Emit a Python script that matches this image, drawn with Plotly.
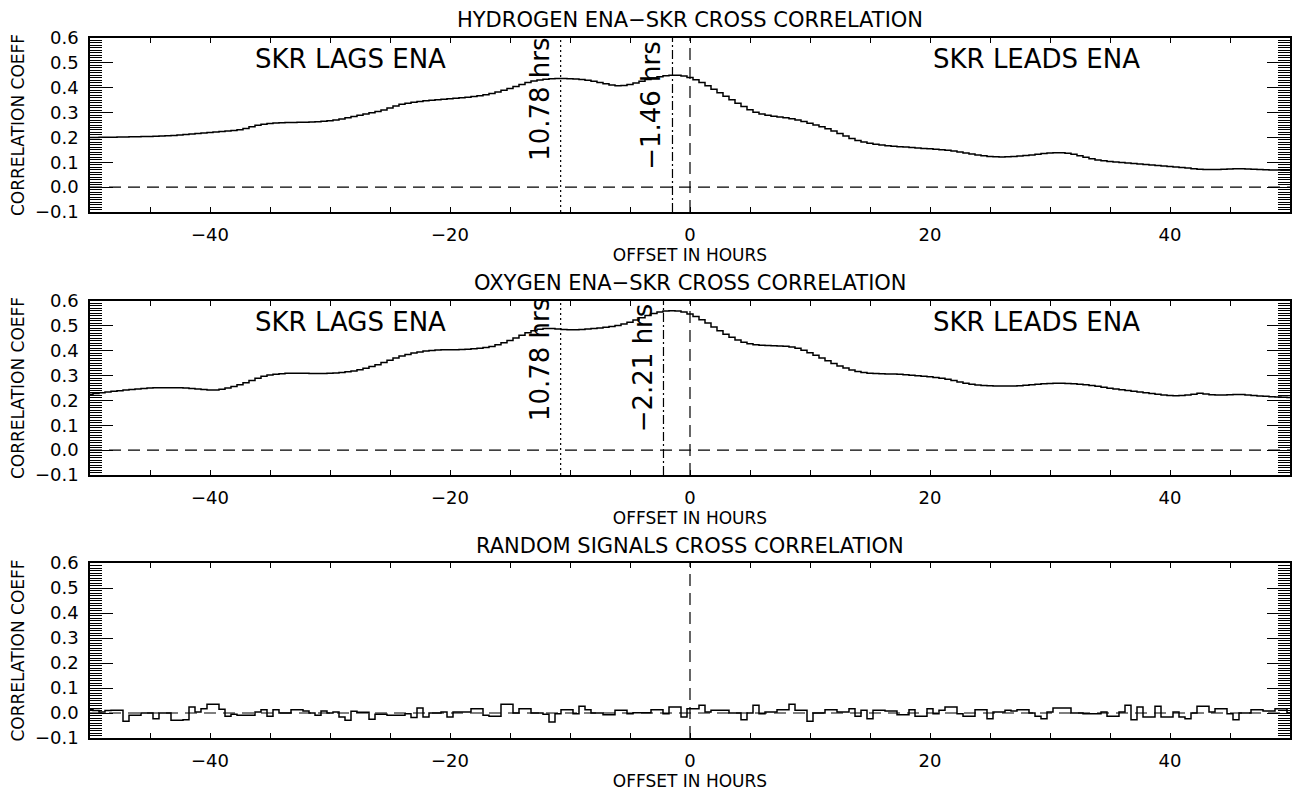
import plotly.graph_objects as go

# ---------------- data ----------------
offset_hours = [-50 + 0.5 * i for i in range(201)]  # bin centres, 0.5 h bins

hydrogen_corr = [
    0.200, 0.200, 0.201, 0.201, 0.201, 0.202, 0.202, 0.203, 0.203, 0.204,
    0.204, 0.205, 0.206, 0.207, 0.208, 0.210, 0.212, 0.214, 0.216, 0.218,
    0.220, 0.222, 0.224, 0.226, 0.228, 0.231, 0.236, 0.243, 0.249, 0.253,
    0.256, 0.258, 0.259, 0.260, 0.260, 0.261, 0.261, 0.262, 0.263, 0.265,
    0.267, 0.270, 0.274, 0.279, 0.284, 0.289, 0.294, 0.299, 0.304, 0.310,
    0.318, 0.326, 0.333, 0.338, 0.342, 0.345, 0.348, 0.350, 0.352, 0.354,
    0.356, 0.358, 0.360, 0.362, 0.365, 0.368, 0.372, 0.377, 0.383, 0.390,
    0.397, 0.405, 0.413, 0.421, 0.427, 0.431, 0.434, 0.436, 0.437, 0.437,
    0.436, 0.435, 0.433, 0.430, 0.426, 0.421, 0.416, 0.411, 0.408, 0.409,
    0.413, 0.419, 0.426, 0.433, 0.439, 0.444, 0.448, 0.450, 0.450, 0.447,
    0.441, 0.432, 0.421, 0.408, 0.394, 0.380, 0.366, 0.352, 0.338, 0.324,
    0.311, 0.301, 0.294, 0.289, 0.285, 0.282, 0.279, 0.275, 0.270, 0.264,
    0.257, 0.250, 0.243, 0.235, 0.226, 0.216, 0.206, 0.196, 0.188, 0.182,
    0.177, 0.173, 0.170, 0.167, 0.165, 0.163, 0.161, 0.159, 0.157, 0.155,
    0.154, 0.152, 0.150, 0.148, 0.145, 0.141, 0.137, 0.133, 0.129, 0.126,
    0.123, 0.122, 0.121, 0.122, 0.123, 0.125, 0.127, 0.129, 0.132, 0.135,
    0.137, 0.138, 0.138, 0.136, 0.132, 0.126, 0.120, 0.114, 0.109, 0.106,
    0.103, 0.101, 0.099, 0.097, 0.095, 0.093, 0.091, 0.089, 0.087, 0.085,
    0.083, 0.081, 0.079, 0.077, 0.074, 0.072, 0.071, 0.071, 0.071, 0.072,
    0.073, 0.074, 0.074, 0.073, 0.072, 0.071, 0.070, 0.069, 0.069, 0.068,
    0.068,
]

oxygen_corr = [
    0.225, 0.228, 0.231, 0.234, 0.237, 0.239, 0.242, 0.244, 0.246, 0.248,
    0.250, 0.251, 0.251, 0.251, 0.251, 0.251, 0.250, 0.248, 0.246, 0.244,
    0.242, 0.242, 0.245, 0.250, 0.256, 0.263, 0.271, 0.280, 0.289, 0.297,
    0.302, 0.305, 0.307, 0.309, 0.309, 0.309, 0.309, 0.308, 0.308, 0.308,
    0.309, 0.310, 0.312, 0.315, 0.318, 0.323, 0.329, 0.336, 0.344, 0.353,
    0.362, 0.371, 0.379, 0.385, 0.391, 0.395, 0.399, 0.401, 0.403, 0.404,
    0.404, 0.404, 0.405, 0.406, 0.408, 0.410, 0.413, 0.417, 0.424, 0.432,
    0.441, 0.451, 0.462, 0.472, 0.480, 0.486, 0.489, 0.489, 0.487, 0.485,
    0.484, 0.484, 0.485, 0.487, 0.489, 0.491, 0.494, 0.497, 0.501, 0.507,
    0.515, 0.524, 0.533, 0.542, 0.550, 0.556, 0.560, 0.561, 0.560, 0.556,
    0.548, 0.538, 0.525, 0.511, 0.495, 0.480, 0.466, 0.454, 0.443, 0.434,
    0.428, 0.424, 0.422, 0.421, 0.420, 0.419, 0.418, 0.415, 0.410, 0.402,
    0.392, 0.382, 0.371, 0.360, 0.349, 0.339, 0.330, 0.322, 0.316, 0.312,
    0.309, 0.308, 0.307, 0.306, 0.306, 0.305, 0.303, 0.301, 0.299, 0.297,
    0.295, 0.292, 0.289, 0.285, 0.280, 0.274, 0.269, 0.265, 0.262, 0.260,
    0.259, 0.258, 0.258, 0.258, 0.258, 0.259, 0.261, 0.263, 0.265, 0.267,
    0.268, 0.269, 0.269, 0.268, 0.267, 0.265, 0.263, 0.260, 0.257, 0.253,
    0.249, 0.246, 0.243, 0.240, 0.237, 0.234, 0.231, 0.228, 0.225, 0.222,
    0.220, 0.219, 0.220, 0.222, 0.225, 0.229, 0.226, 0.223, 0.222, 0.222,
    0.223, 0.224, 0.224, 0.222, 0.220, 0.218, 0.217, 0.215, 0.214, 0.213,
    0.212,
]

random_corr = [
    0.013, 0.010, 0.004, 0.010, 0.011, 0.011, -0.033, -0.009, -0.009, 0.000,
    0.000, -0.023, 0.000, 0.000, -0.029, -0.029, -0.027, 0.024, 0.004, 0.017,
    0.035, 0.035, 0.015, -0.013, -0.005, -0.009, -0.009, -0.009, 0.004, 0.013,
    -0.013, 0.013, 0.000, 0.000, 0.013, 0.013, 0.008, 0.000, -0.009, 0.008,
    0.000, 0.004, -0.016, -0.029, 0.007, 0.003, 0.003, -0.025, -0.005, -0.005,
    -0.009, -0.009, -0.009, -0.003, -0.018, 0.020, -0.016, 0.000, 0.000, 0.004,
    -0.016, 0.004, 0.004, 0.004, 0.017, 0.017, -0.009, -0.013, -0.013, 0.035,
    0.035, 0.000, 0.017, 0.017, 0.000, 0.000, -0.005, -0.036, -0.003, 0.013,
    0.013, -0.003, 0.027, 0.013, 0.000, 0.000, -0.007, -0.007, 0.011, 0.011,
    -0.003, 0.001, 0.001, 0.001, 0.013, 0.013, -0.003, 0.024, 0.024, -0.016,
    0.017, 0.017, 0.031, 0.004, 0.011, 0.011, 0.011, 0.000, 0.000, -0.027,
    0.000, 0.031, -0.003, 0.004, 0.004, 0.013, 0.013, 0.035, 0.011, 0.011,
    -0.033, 0.000, 0.000, 0.013, 0.013, 0.004, 0.004, 0.017, -0.013, 0.011,
    -0.023, 0.011, 0.011, 0.008, 0.008, -0.007, -0.007, 0.013, -0.013, -0.013,
    0.017, -0.003, 0.011, 0.024, 0.024, -0.003, -0.013, -0.013, 0.013, 0.013,
    -0.023, 0.004, 0.004, 0.011, 0.008, 0.013, 0.013, 0.000, -0.013, -0.023,
    0.004, 0.020, 0.020, 0.020, 0.000, 0.000, -0.003, -0.003, -0.003, 0.004,
    -0.013, -0.013, 0.004, 0.031, -0.027, 0.024, -0.016, -0.016, 0.027, -0.016,
    -0.016, 0.004, -0.016, -0.023, 0.000, 0.027, 0.027, 0.004, 0.017, 0.017,
    -0.003, -0.027, 0.000, 0.000, 0.013, 0.013, 0.008, 0.008, 0.017, 0.017,
    0.000,
]

panel_titles = [
    "HYDROGEN ENA\u2212SKR CROSS CORRELATION",
    "OXYGEN ENA\u2212SKR CROSS CORRELATION",
    "RANDOM SIGNALS CROSS CORRELATION",
]
x_tick_vals = [-40, -20, 0, 20, 40]
y_tick_vals = [-0.1, 0.0, 0.1, 0.2, 0.3, 0.4, 0.5, 0.6]
x_range = [-50, 50]
y_range = [-0.1, 0.6]

secondary_lag = -10.78                 # dotted line (panels 1 and 2)
peak_lags = [-1.46, -2.21]             # dash-dot lines (panels 1 and 2)
lag_labels = [["10.78 hrs", "\u22121.46 hrs"], ["10.78 hrs", "\u22122.21 hrs"]]
lag_label_x = [[-12.5, -3.25], [-12.5, -3.9]]
lag_label_y = [[0.351, 0.327], [0.362, 0.330]]
region_labels = ["SKR LAGS ENA", "SKR LEADS ENA"]
region_label_x = [-28.3, 28.9]
region_label_y = 0.515

# ---------------- figure ----------------
W, H = 1296, 791
FONT = "DejaVu Sans"
panel_px = [(38, 212), (301, 475), (563, 738)]   # top/bottom pixel rows of plot areas
title_px = [20, 283, 546]

fig = go.Figure()
series = [hydrogen_corr, oxygen_corr, random_corr]
layout = dict(
    width=W, height=H,
    margin=dict(l=90, r=6, t=0, b=0),
    paper_bgcolor="white", plot_bgcolor="white",
    showlegend=False, hovermode=False,
    template="none",
    font=dict(family=FONT, color="black", size=17),
)
shapes = []
annotations = []

for i in range(3):
    xa = "x" if i == 0 else f"x{i+1}"
    ya = "y" if i == 0 else f"y{i+1}"
    xk = "xaxis" if i == 0 else f"xaxis{i+1}"
    yk = "yaxis" if i == 0 else f"yaxis{i+1}"
    top, bot = panel_px[i]
    fig.add_trace(go.Scatter(
        x=offset_hours, y=series[i], mode="lines",
        line=dict(shape="hvh", color="black", width=1.5),
        xaxis=xa, yaxis=ya,
    ))
    layout[xk] = dict(
        domain=[0, 1], anchor=ya, range=x_range,
        tickmode="array", tickvals=x_tick_vals,
        ticks="inside", ticklen=5, tickwidth=1, tickcolor="black",
        minor=dict(dtick=5, tick0=0, ticks="inside", ticklen=5, tickwidth=1, tickcolor="black"),
        showline=True, linecolor="black", linewidth=1.5, mirror="ticks",
        showgrid=False, zeroline=False,
        tickfont=dict(family=FONT, size=18, color="black"),
        ticklabelstandoff=6,
        title=dict(text="OFFSET IN HOURS", font=dict(family=FONT, size=17, color="black"), standoff=4),
    )
    layout[yk] = dict(
        domain=[1 - bot / H, 1 - top / H], anchor=xa, range=y_range,
        tickmode="array", tickvals=y_tick_vals, tickformat=".1f",
        ticks="inside", ticklen=23, tickwidth=1, tickcolor="black",
        minor=dict(dtick=0.01, tick0=0, ticks="inside", ticklen=12, tickwidth=1, tickcolor="black"),
        showline=True, linecolor="black", linewidth=1.5, mirror="ticks",
        showgrid=False, zeroline=False,
        tickfont=dict(family=FONT, size=18, color="black"),
        ticklabelstandoff=6,
        title=dict(text="CORRELATION COEFF", font=dict(family=FONT, size=17, color="black"), standoff=6),
    )
    # panel title
    annotations.append(dict(
        text=panel_titles[i], xref="paper", yref="paper", x=0.5, y=1 - title_px[i] / H,
        xanchor="center", yanchor="middle", showarrow=False,
        font=dict(family=FONT, size=21, color="black"),
    ))
    # zero line and zero-offset line (dashed)
    shapes.append(dict(type="line", xref=f"{xa} domain", x0=0, x1=1, yref=ya, y0=0, y1=0,
                       line=dict(color="black", width=1.2, dash="12px,7px")))
    shapes.append(dict(type="line", xref=xa, x0=0, x1=0, yref=f"{ya} domain", y0=0, y1=1,
                       line=dict(color="black", width=1.2, dash="12px,7px")))
    if i < 2:
        shapes.append(dict(type="line", xref=xa, x0=secondary_lag, x1=secondary_lag,
                           yref=f"{ya} domain", y0=0, y1=1,
                           line=dict(color="black", width=1.2, dash="2px,3px")))
        shapes.append(dict(type="line", xref=xa, x0=peak_lags[i], x1=peak_lags[i],
                           yref=f"{ya} domain", y0=0, y1=1,
                           line=dict(color="black", width=1.2, dash="9px,3px,2px,3px")))
        for j in range(2):
            annotations.append(dict(
                text=lag_labels[i][j], xref=xa, yref=ya,
                x=lag_label_x[i][j], y=lag_label_y[i][j], textangle=-90,
                xanchor="center", yanchor="middle", showarrow=False,
                font=dict(family=FONT, size=26, color="black"),
            ))
            annotations.append(dict(
                text=region_labels[j], xref=xa, yref=ya,
                x=region_label_x[j], y=region_label_y,
                xanchor="center", yanchor="middle", showarrow=False,
                font=dict(family=FONT, size=26, color="black"),
            ))

layout["shapes"] = shapes
layout["annotations"] = annotations
fig.update_layout(**layout)
fig.write_html("out.html",
               config={"displayModeBar": False},
               post_script="document.body.style.margin='0';document.body.style.overflow='hidden';")
